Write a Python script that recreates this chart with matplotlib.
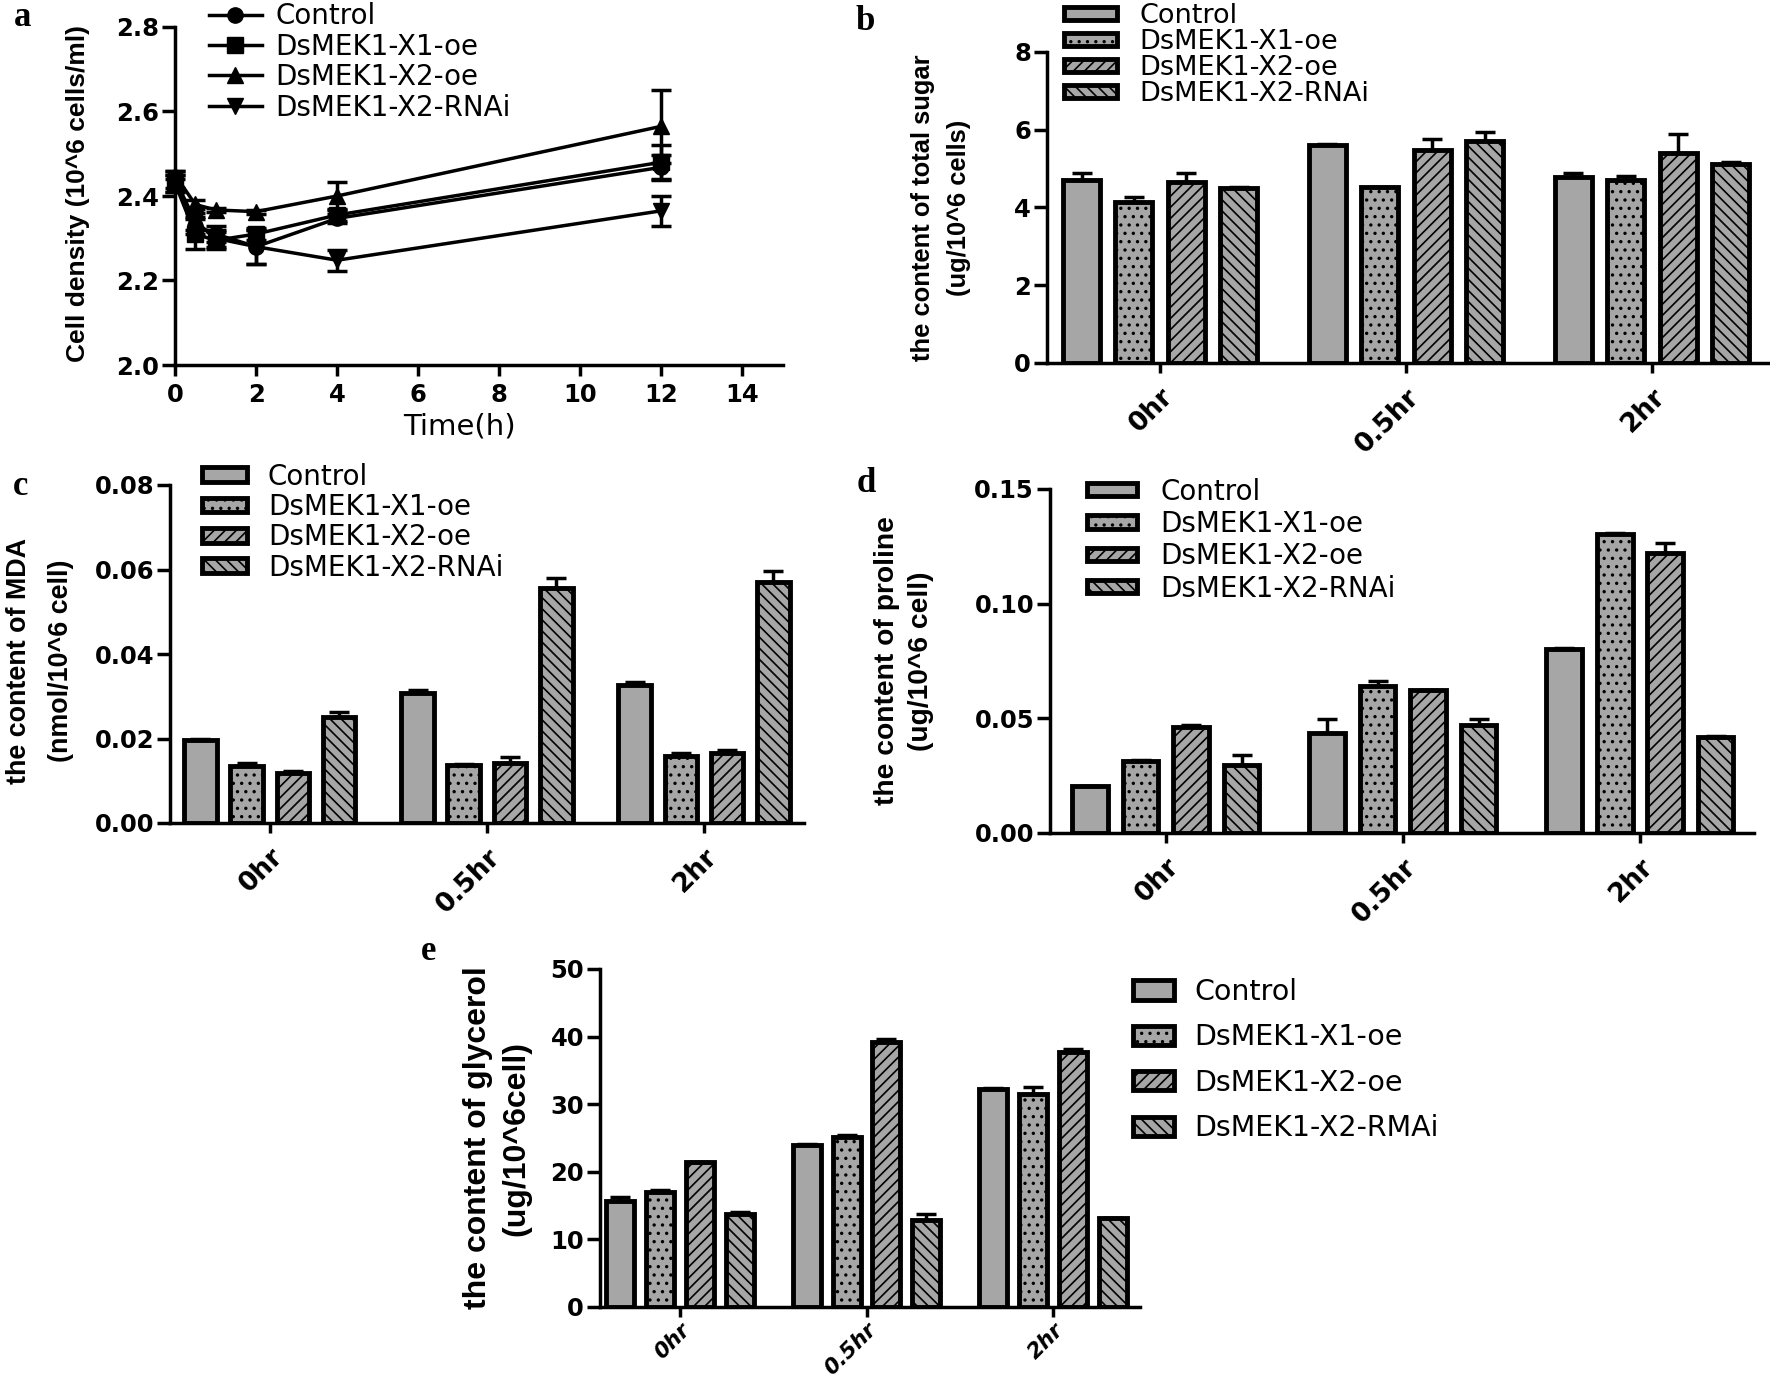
import numpy as np
import matplotlib
matplotlib.use("Agg")
import matplotlib.pyplot as plt
from matplotlib.lines import Line2D

plt.rcParams['font.family'] = ['DejaVu Sans']
plt.rcParams['hatch.linewidth'] = 1.2

# ---- panel a: cell density over time ----
times = [0, 0.5, 1, 2, 4, 12]
line_names = ["Control", "DsMEK1-X1-oe", "DsMEK1-X2-oe", "DsMEK1-X2-RNAi"]
dens_control = [2.43, 2.33, 2.31, 2.28, 2.347, 2.468]
dens_x1 = [2.43, 2.31, 2.295, 2.31, 2.355, 2.48]
dens_x2 = [2.45, 2.38, 2.367, 2.363, 2.40, 2.565]
dens_rnai = [2.44, 2.34, 2.30, 2.28, 2.248, 2.365]
dens_control_err = [0.02, 0.02, 0.02, 0.04, 0.01, 0.03]
dens_x1_err = [0.02, 0.035, 0.02, 0.015, 0.015, 0.04]
dens_x2_err = [0.01, 0.01, 0.005, 0.005, 0.033, 0.087]
dens_rnai_err = [0.02, 0.02, 0.02, 0.04, 0.025, 0.035]

# ---- bar panels (rows: Control, X1-oe, X2-oe, X2-RNAi; cols: 0hr, 0.5hr, 2hr) ----
groups = ["0hr", "0.5hr", "2hr"]
bar_names = ["Control", "DsMEK1-X1-oe", "DsMEK1-X2-oe", "DsMEK1-X2-RNAi"]
bar_names_e = ["Control", "DsMEK1-X1-oe", "DsMEK1-X2-oe", "DsMEK1-X2-RMAi"]

sugar = [[4.72, 5.60, 4.78], [4.15, 4.53, 4.72], [4.65, 5.49, 5.39], [4.49, 5.70, 5.13]]
sugar_err = [[0.17, 0.04, 0.12], [0.11, 0.0, 0.10], [0.24, 0.27, 0.50], [0.03, 0.24, 0.05]]

mda = [[0.0196, 0.0307, 0.0326], [0.0136, 0.0138, 0.0159], [0.0118, 0.0142, 0.0166], [0.0252, 0.0557, 0.0571]]
mda_err = [[0.0002, 0.0007, 0.0007], [0.0006, 0.0002, 0.0007], [0.0004, 0.0014, 0.0006], [0.0010, 0.0022, 0.0026]]

proline = [[0.0204, 0.0437, 0.0802], [0.0314, 0.0642, 0.1303], [0.0463, 0.0623, 0.1220], [0.0296, 0.0470, 0.0419]]
proline_err = [[0.0002, 0.0058, 0.0006], [0.0004, 0.0021, 0.0007], [0.0007, 0.0002, 0.0043], [0.0043, 0.0028, 0.0002]]

glycerol = [[15.7, 24.0, 32.3], [17.05, 25.1, 31.5], [21.4, 39.2, 37.7], [13.7, 12.9, 13.1]]
glycerol_err = [[0.5, 0.1, 0.1], [0.2, 0.3, 1.0], [0.1, 0.4, 0.5], [0.3, 0.9, 0.1]]

W, H = 1770, 1380
fig = plt.figure(figsize=(W / 100, H / 100), dpi=100)

FILL = '#a6a6a6'
HATCHES = ['', '..', '///', '\\\\\\']
TICK_FS = 17.5


def px_axes(l, t, r, b):
    return fig.add_axes([l / W, 1 - b / H, (r - l) / W, (b - t) / H])


def fx(x):
    return x / W


def fy(y):
    return 1 - y / H


def style_axes(ax):
    for s in ['top', 'right']:
        ax.spines[s].set_visible(False)
    for s in ['left', 'bottom']:
        ax.spines[s].set_linewidth(2.5)
    ax.tick_params(axis='x', width=2.5, length=7, pad=3)
    ax.tick_params(axis='y', width=2.5, length=9.5, pad=2)


def ylabel(text, cx, cy, fs, ls=1.6):
    fig.text(fx(cx), fy(cy), text, rotation=90, ha='center', va='center',
             fontsize=fs, fontweight='bold', family='Liberation Sans',
             linespacing=ls, multialignment='center')


def letter(s, x, y):
    fig.text(fx(x), fy(y), s, ha='center', va='center', fontsize=25,
             fontweight='bold', family='Liberation Serif')


# ---------------- panel a ----------------
ax = px_axes(175, 27, 783, 365)
style_axes(ax)
markers = ['o', 's', '^', 'v']
series = [dens_control, dens_x1, dens_x2, dens_rnai]
errs = [dens_control_err, dens_x1_err, dens_x2_err, dens_rnai_err]
handles = []
for ys, es, m, n in zip(series, errs, markers, line_names):
    ax.errorbar(times, ys, yerr=es, color='black', marker=m, markersize=11,
                lw=2.5, elinewidth=2.5, capsize=7, capthick=2.5, clip_on=False)
    handles.append(Line2D([], [], color='black', marker=m, markersize=11, lw=2.5, label=n))
ax.set_xlim(0, 15)
ax.set_ylim(2.0, 2.8)
ax.set_xticks(range(0, 15, 2), labels=[str(v) for v in range(0, 15, 2)],
              fontsize=TICK_FS, fontweight='bold')
ax.set_yticks([2.0, 2.2, 2.4, 2.6, 2.8], labels=['2.0', '2.2', '2.4', '2.6', '2.8'],
              fontsize=TICK_FS, fontweight='bold')
ax.tick_params(axis='x', length=8, pad=5)
ax.legend(handles=handles, loc='upper left', bbox_to_anchor=(fx(209), fy(2.5)),
          bbox_transform=fig.transFigure, frameon=False, fontsize=20,
          borderpad=0, borderaxespad=0, handlelength=1.9, handletextpad=0.5,
          labelspacing=0.084)
fig.text(fx(459), fy(427), "Time(h)", ha='center', va='center', fontsize=21)
ylabel("Cell density (10^6 cells/ml)", 78, 194, 19)
letter("a", 23, 18)


# ---------------- bar panels ----------------
def bar_panel(rect, xlim, vals, errs, ylim, yticks, yticklabels, names,
              leg_xy, leg_kw, italic=False, xfs=19, xpad=8):
    ax = px_axes(*rect)
    style_axes(ax)
    x = np.arange(len(groups))
    step, width = 0.213, 0.15
    for i, (v, e) in enumerate(zip(vals, errs)):
        pos = x + (i - 1.5) * step
        ax.bar(pos, v, width, color=FILL, edgecolor='black', linewidth=3.5,
               hatch=HATCHES[i], label=names[i], zorder=2)
        ax.errorbar(pos, v, yerr=[np.zeros(len(v)), e], fmt='none', ecolor='black',
                    elinewidth=2.5, capsize=7, capthick=2.5, zorder=3)
    ax.set_xlim(*xlim)
    ax.set_ylim(*ylim)
    ax.set_yticks(yticks, labels=yticklabels, fontsize=TICK_FS, fontweight='bold')
    ax.set_xticks(x, labels=groups, fontsize=xfs, fontweight='bold',
                  rotation=45, ha='right', rotation_mode='anchor',
                  fontstyle='italic' if italic else 'normal')
    ax.tick_params(axis='x', pad=xpad)
    kw = dict(loc='upper left', bbox_to_anchor=(fx(leg_xy[0]), fy(leg_xy[1])),
              bbox_transform=fig.transFigure, frameon=False, fontsize=20,
              borderpad=0, borderaxespad=0, handlelength=1.95, handleheight=0.35,
              handletextpad=0.85, labelspacing=0.11)
    kw.update(leg_kw)
    ax.legend(**kw)
    return ax


# b: total sugar
bar_panel((1047, 52, 1770, 363), (-0.46, 2.48), sugar, sugar_err, (0, 8),
          [0, 2, 4, 6, 8], ['0', '2', '4', '6', '8'], bar_names, (1064, 3),
          {'fontsize': 19.5, 'labelspacing': 0.0})
ylabel("the content of total sugar\n(ug/10^6 cells)", 941, 208, 18.4, 1.67)
letter("b", 865, 22)

# c: MDA
bar_panel((170, 485, 804, 823), (-0.46, 2.461), mda, mda_err, (0, 0.08),
          [0, 0.02, 0.04, 0.06, 0.08], ['0.00', '0.02', '0.04', '0.06', '0.08'],
          bar_names, (202, 462.5),
          {'handlelength': 1.62, 'handleheight': 0.43, 'handletextpad': 0.75,
           'labelspacing': 0.084})
ylabel("the content of MDA\n(nmol/10^6 cell)", 40, 661, 19.4, 1.8)
letter("c", 21, 487)

# d: proline
bar_panel((1050, 489, 1754, 833), (-0.489, 2.481), proline, proline_err, (0, 0.15),
          [0, 0.05, 0.10, 0.15], ['0.00', '0.05', '0.10', '0.15'],
          bar_names, (1087, 477.5), {'handlelength': 1.8, 'labelspacing': 0.16})
ylabel("the content of proline\n(ug/10^6 cell)", 904, 661, 20.3, 1.43)
letter("d", 866, 483)

# e: glycerol
bar_panel((600, 969, 1140, 1307), (-0.429, 2.466), glycerol, glycerol_err, (0, 50),
          [0, 10, 20, 30, 40, 50], ['0', '10', '20', '30', '40', '50'],
          bar_names_e, (1133, 978),
          {'fontsize': 20.5, 'handlelength': 1.45, 'handleheight': 0.65,
           'handletextpad': 0.7, 'labelspacing': 0.61}, italic=True, xfs=15.5, xpad=2)
ylabel("the content of glycerol\n(ug/10^6cell)", 497, 1138, 23, 1.39)
letter("e", 429, 952)

fig.savefig("out.png", dpi=100)
